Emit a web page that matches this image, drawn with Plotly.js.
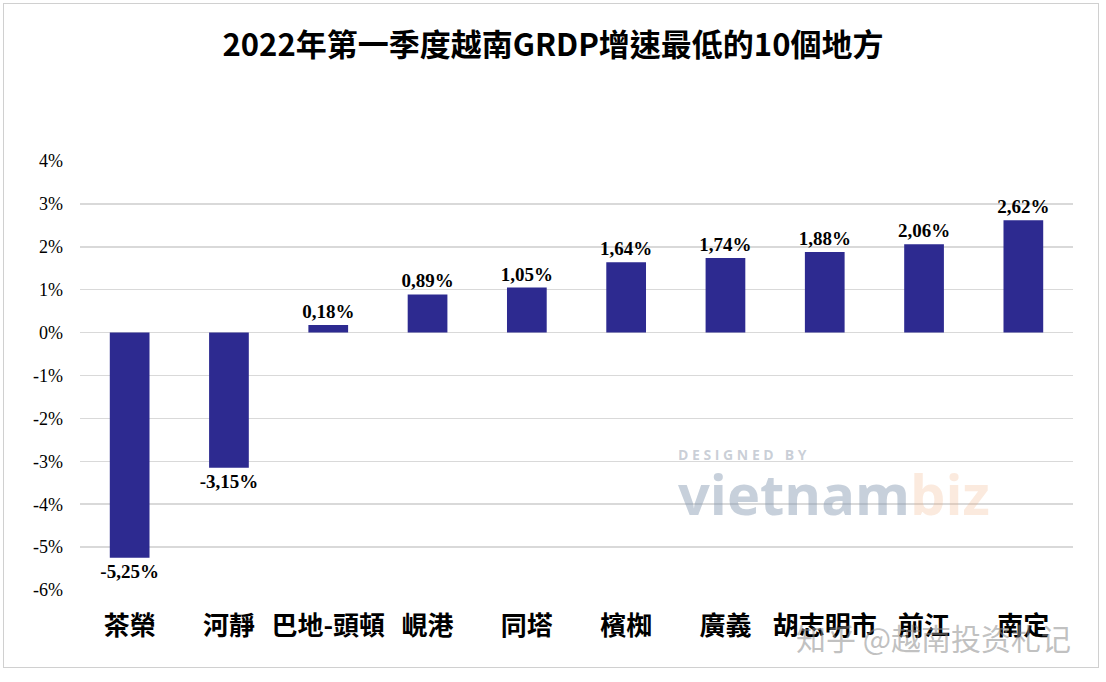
<!DOCTYPE html>
<html>
<head>
<meta charset="utf-8">
<script src="https://cdn.plot.ly/plotly-3.0.1.min.js"></script>
<style>
  html, body { margin: 0; padding: 0; background: #ffffff; }
  #wrap { position: relative; width: 1106px; height: 682px; }
  #chart { position: absolute; left: 0; top: 0; width: 1106px; height: 682px; }
  #frame { position: absolute; left: 3px; top: 3px; width: 1094px; height: 663px;
           border: 1px solid #d0d0d0; pointer-events: none; }
</style>
</head>
<body>
<div id="wrap">
  <div id="chart"></div>
  <div id="frame"></div>
</div>
<script>
// ---- Data ----
var categories = ["茶榮", "河靜", "巴地-頭頓", "峴港", "同塔", "檳椥", "廣義", "胡志明市", "前江", "南定"];
var growth = [-5.25, -3.15, 0.18, 0.89, 1.05, 1.64, 1.74, 1.88, 2.06, 2.62];
var yTickVals = [4, 3, 2, 1, 0, -1, -2, -3, -4, -5, -6];
var yTickText = ["4%", "3%", "2%", "1%", "0%", "-1%", "-2%", "-3%", "-4%", "-5%", "-6%"];
var titleText = "2022年第一季度越南GRDP增速最低的10個地方";

var labels = growth.map(function (v) { return v.toFixed(2).replace(".", ",") + "%"; });

var trace = {
  type: "bar",
  x: categories,
  y: growth,
  width: 0.4,
  marker: { color: "#2d2a90" },
  text: labels,
  textposition: "outside",
  constraintext: "none",
  cliponaxis: false,
  textfont: { family: "Liberation Serif, Times New Roman, serif", size: 19, color: "#000000", weight: "bold" },
  hoverinfo: "skip"
};

var layout = {
  width: 1106,
  height: 682,
  paper_bgcolor: "#ffffff",
  plot_bgcolor: "#ffffff",
  margin: { l: 80, r: 33, t: 161, b: 92 },
  showlegend: false,
  title: {
    text: "<b>" + titleText + "</b>",
    x: 0.5, xanchor: "center",
    y: 1 - 45 / 682, yanchor: "middle",
    font: { family: "Noto Sans CJK TC, Noto Sans, sans-serif", size: 31, color: "#000000" }
  },
  xaxis: {
    type: "category",
    showgrid: false,
    zeroline: false,
    showline: false,
    ticks: "",
    ticklabelstandoff: 18,
    tickfont: { family: "Noto Sans CJK TC, sans-serif", size: 26, color: "#000000", weight: "bold" },
    fixedrange: true
  },
  yaxis: {
    range: [-6, 4],
    tickvals: yTickVals,
    ticktext: yTickText,
    showgrid: true,
    gridcolor: "#d9d9d9",
    gridwidth: 1.5,
    zeroline: true,
    zerolinecolor: "#d9d9d9",
    zerolinewidth: 1.5,
    showline: false,
    ticks: "",
    ticklabelstandoff: 16,
    tickfont: { family: "Liberation Serif, Times New Roman, serif", size: 18, color: "#000000" },
    fixedrange: true
  },
  bargap: 0.6,
  annotations: [
    {
      xref: "paper", yref: "paper", x: 1.0, y: -0.11, xanchor: "right", yanchor: "middle",
      text: "知乎 @越南投资札记", showarrow: false,
      font: { family: "Noto Sans CJK SC, sans-serif", size: 30, color: "rgba(140,140,140,0.55)" }
    },
    {
      xref: "paper", yref: "paper", x: 0.6, y: 0.315, xanchor: "left", yanchor: "middle",
      text: "D E S I G N E D   B Y", showarrow: false,
      font: { family: "Open Sans, sans-serif", size: 14, color: "rgba(150,160,175,0.5)", weight: "bold" }
    },
    {
      xref: "paper", yref: "paper", x: 0.6, y: 0.225, xanchor: "left", yanchor: "middle",
      text: "vietnam<span style='color:rgba(240,170,120,0.55)'>biz</span>", showarrow: false,
      font: { family: "Open Sans, sans-serif", size: 56, color: "rgba(130,150,175,0.45)", weight: "bold" }
    }
  ]
};

Plotly.newPlot("chart", [trace], layout, { displayModeBar: false, staticPlot: true });
</script>
</body>
</html>
